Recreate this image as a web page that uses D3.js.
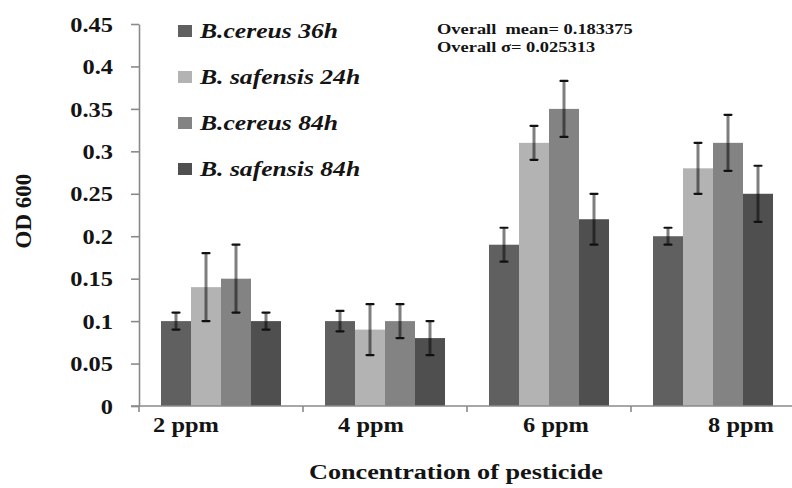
<!DOCTYPE html>
<html>
<head>
<meta charset="utf-8">
<script src="https://cdn.jsdelivr.net/npm/d3@7"></script>
<style>
  html, body { margin: 0; padding: 0; background: #fff; }
  svg { display: block; }
  text { font-family: "Liberation Serif", "Times New Roman", serif; fill: #141414; }
</style>
</head>
<body>
<svg id="chart" width="792" height="488"></svg>
<script>
// OD600 growth of two Bacillus strains at four pesticide concentrations
const categories = ["2 ppm", "4 ppm", "6 ppm", "8 ppm"];
const seriesNames = ["B.cereus 36h", "B. safensis 24h", "B.cereus 84h", "B. safensis 84h"];

const cereus36   = [0.10, 0.10, 0.19, 0.20];
const safensis24 = [0.14, 0.09, 0.31, 0.28];
const cereus84   = [0.15, 0.10, 0.35, 0.31];
const safensis84 = [0.10, 0.08, 0.22, 0.25];

const cereus36Err   = [0.010, 0.012, 0.020, 0.010];
const safensis24Err = [0.040, 0.030, 0.020, 0.030];
const cereus84Err   = [0.040, 0.020, 0.033, 0.033];
const safensis84Err = [0.010, 0.020, 0.030, 0.033];

const yTicks = [0, 0.05, 0.1, 0.15, 0.2, 0.25, 0.3, 0.35, 0.4, 0.45];
const yTickLabels = ["0", "0.05", "0.1", "0.15", "0.2", "0.25", "0.3", "0.35", "0.4", "0.45"];

const statsLines = ["Overall  mean= 0.183375", "Overall \u03c3= 0.025313"];
const colors = ["#606060", "#b3b3b3", "#838383", "#4f4f4f"];

const seriesValues = [cereus36, safensis24, cereus84, safensis84];
const seriesErrors = [cereus36Err, safensis24Err, cereus84Err, safensis84Err];

const svg = d3.select("#chart");
const plotLeft = 139, plotRight = 795, plotTop = 24, plotBottom = 406;
const widen = 1.22; // horizontal glyph widening used for the labels

function stretch(sel, k) {
  sel.each(function () {
    const w = this.getComputedTextLength();
    d3.select(this).attr("textLength", w * k).attr("lengthAdjust", "spacingAndGlyphs");
  });
}

const y = d3.scaleLinear().domain([0, 0.45]).range([plotBottom, plotTop]);
const x0 = d3.scaleBand().domain(categories).range([plotLeft, plotRight])
  .paddingInner(44 / 164).paddingOuter(22 / 164);
const x1 = d3.scaleBand().domain(seriesNames).range([0, x0.bandwidth()]);
const labelX = d3.scalePoint().domain(categories).range([186, 741]);

// bars
const groups = svg.append("g").selectAll("g")
  .data(categories)
  .join("g")
  .attr("transform", d => `translate(${x0(d)},0)`);

groups.selectAll("rect")
  .data((c, ci) => seriesNames.map((s, si) => ({ s, si, v: seriesValues[si][ci] })))
  .join("rect")
  .attr("x", d => x1(d.s))
  .attr("width", x1.bandwidth())
  .attr("y", d => y(d.v))
  .attr("height", d => y(0) - y(d.v))
  .attr("fill", d => colors[d.si]);

// error bars
const errs = groups.selectAll("g.err")
  .data((c, ci) => seriesNames.map((s, si) => ({ s, si, v: seriesValues[si][ci], e: seriesErrors[si][ci] })))
  .join("g")
  .attr("class", "err")
  .attr("transform", d => `translate(${x1(d.s) + x1.bandwidth() / 2},0)`);

errs.append("line")
  .attr("y1", d => y(d.v + d.e)).attr("y2", d => y(d.v - d.e))
  .attr("stroke", "#000").attr("stroke-opacity", 0.5).attr("stroke-width", 3);
errs.selectAll("line.cap")
  .data(d => [d.v + d.e, d.v - d.e])
  .join("line")
  .attr("class", "cap")
  .attr("x1", -3.5).attr("x2", 3.5)
  .attr("y1", d => y(d)).attr("y2", d => y(d))
  .attr("stroke", "#111").attr("stroke-width", 2.2).attr("stroke-linecap", "round");

// y axis
const yAxis = svg.append("g")
  .attr("transform", `translate(${plotLeft},0)`)
  .call(d3.axisLeft(y).tickValues(yTicks).tickFormat((d, i) => yTickLabels[i])
    .tickSize(8).tickPadding(18).tickSizeOuter(0));
yAxis.select(".domain").attr("stroke", "#8a8a8a").attr("stroke-width", 1.6);
yAxis.selectAll(".tick line").attr("stroke", "#8a8a8a").attr("stroke-width", 1.6);
yAxis.selectAll(".tick text")
  .attr("font-family", "Liberation Serif").attr("font-size", 20).attr("font-weight", "bold")
  .attr("fill", "#141414").attr("dy", "0.36em")
  .call(stretch, widen);

// x axis line with ticks at category boundaries
const xAxis = svg.append("g");
xAxis.append("line")
  .attr("x1", plotLeft - 8).attr("x2", plotRight).attr("y1", plotBottom).attr("y2", plotBottom)
  .attr("stroke", "#8a8a8a").attr("stroke-width", 1.6);
const boundaries = categories.map(c => x0(c) - x0.step() * x0.paddingOuter());
boundaries.push(plotRight);
xAxis.selectAll("line.tick")
  .data(boundaries)
  .join("line")
  .attr("class", "tick")
  .attr("x1", d => d).attr("x2", d => d)
  .attr("y1", plotBottom).attr("y2", plotBottom + 6)
  .attr("stroke", "#8a8a8a").attr("stroke-width", 1.6);

xAxis.selectAll("text.cat")
  .data(categories)
  .join("text")
  .attr("class", "cat")
  .attr("x", d => labelX(d)).attr("y", 432)
  .attr("text-anchor", "middle")
  .attr("font-size", 20).attr("font-weight", "bold")
  .text(d => d)
  .call(stretch, widen);

// axis titles
svg.append("text")
  .attr("x", 456).attr("y", 479)
  .attr("text-anchor", "middle")
  .attr("font-size", 20).attr("font-weight", "bold")
  .text("Concentration of pesticide")
  .call(stretch, 1.31);

svg.append("text")
  .attr("transform", "translate(31,211) rotate(-90)")
  .attr("text-anchor", "middle")
  .attr("font-size", 23).attr("font-weight", "bold")
  .text("OD 600");

// legend
const legend = svg.append("g").selectAll("g")
  .data(seriesNames)
  .join("g")
  .attr("transform", (d, i) => `translate(178,${31 + i * 46})`);
legend.append("rect")
  .attr("x", 0).attr("y", -6).attr("width", 14).attr("height", 12)
  .attr("fill", (d, i) => colors[i]);
legend.append("text")
  .attr("x", 22).attr("y", 6.5)
  .attr("font-size", 21).attr("font-weight", "bold").attr("font-style", "italic")
  .text(d => d)
  .call(stretch, widen);

// summary statistics
svg.append("g").selectAll("text")
  .data(statsLines)
  .join("text")
  .attr("x", 437).attr("y", (d, i) => 34 + i * 17.5)
  .attr("font-size", 14.5).attr("font-weight", "bold")
  .attr("xml:space", "preserve")
  .style("white-space", "pre")
  .text(d => d)
  .call(stretch, 1.27);
</script>
</body>
</html>
